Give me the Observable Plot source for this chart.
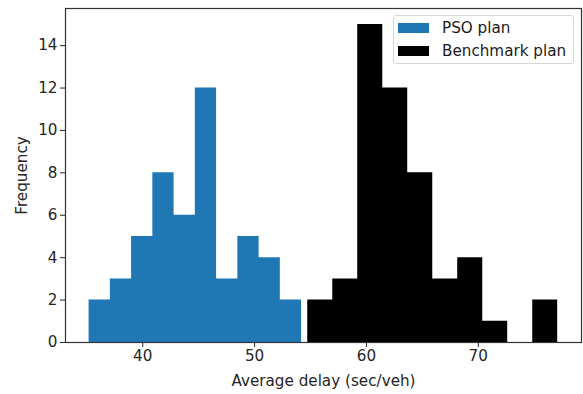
<!DOCTYPE html>
<html>
<head>
<meta charset="utf-8">
<script src="https://cdn.jsdelivr.net/npm/d3@7"></script>
<script src="https://cdn.jsdelivr.net/npm/@observablehq/plot@0.6"></script>
<style>
  html, body { margin: 0; padding: 0; background: #fff; }
  #wrap { position: relative; width: 583px; height: 394px; font-family: "DejaVu Sans", sans-serif; }
  #legend { position: absolute; left: 393px; top: 15px; width: 181px; height: 49px; border: 1px solid #d6d6d6; border-radius: 3px; background: rgba(255,255,255,0.85); box-sizing: border-box; }
  .item { position: absolute; left: 4px; height: 18px; display: flex; align-items: center; font-size: 15.2px; color: #1a1a1a; white-space: nowrap; }
  .sw { width: 31px; height: 10px; margin-right: 13px; }
</style>
</head>
<body>
<div id="wrap"></div>
<script>
const seriesNames = ["PSO plan", "Benchmark plan"];
const seriesColors = ["#1f77b4", "#000000"];

// Bin edges and counts
const psoEdges = [35.2, 37.1, 39.0, 40.9, 42.8, 44.7, 46.6, 48.5, 50.4, 52.3, 54.2];
const psoCounts = [2, 3, 5, 8, 6, 12, 3, 5, 4, 2];
const benchEdges = [54.75, 56.99, 59.22, 61.46, 63.69, 65.93, 68.16, 70.40, 72.63, 74.87, 77.10];
const benchCounts = [2, 3, 15, 12, 8, 3, 4, 1, 0, 2];

const xTicks = [40, 50, 60, 70];
const yTicks = [0, 2, 4, 6, 8, 10, 12, 14];

// Step outline per series: each edge carries the count of the bin it opens;
// the closing edge repeats the last bin's count.
function steps(edges, counts, series) {
  return edges.map((e, i) => ({x: e, y: counts[Math.min(i, counts.length - 1)], series}));
}
const data = [
  ...steps(psoEdges, psoCounts, seriesNames[0]),
  ...steps(benchEdges, benchCounts, seriesNames[1])
];

const chart = Plot.plot({
  width: 583,
  height: 394,
  marginLeft: 65,
  marginRight: 2,
  marginTop: 8,
  marginBottom: 52,
  style: { fontFamily: "'DejaVu Sans', sans-serif", fontSize: "15.2px", color: "#262626", background: "#fff" },
  x: { domain: [33.09, 79.23], ticks: xTicks, tickSize: 5, tickPadding: 3, label: "Average delay (sec/veh)", labelAnchor: "center", labelArrow: false, labelOffset: 43 },
  y: { domain: [0, 15.75], ticks: yTicks, tickSize: 5, tickPadding: 3, label: "Frequency", labelAnchor: "center", labelArrow: false, labelOffset: 49 },
  color: { domain: seriesNames, range: seriesColors },
  marks: [
    Plot.areaY(data, { x: "x", y: "y", z: "series", fill: "series", curve: "step-after" }),
    Plot.frame({ stroke: "#333", strokeWidth: 1.2 })
  ]
});
const wrap = document.getElementById("wrap");
wrap.appendChild(chart);

const legend = document.createElement("div");
legend.id = "legend";
seriesNames.forEach((name, i) => {
  const item = document.createElement("div");
  item.className = "item";
  item.style.top = (3 + i * 23) + "px";
  const sw = document.createElement("span");
  sw.className = "sw";
  sw.style.background = seriesColors[i];
  item.appendChild(sw);
  item.appendChild(document.createTextNode(name));
  legend.appendChild(item);
});
wrap.appendChild(legend);
</script>
</body>
</html>
